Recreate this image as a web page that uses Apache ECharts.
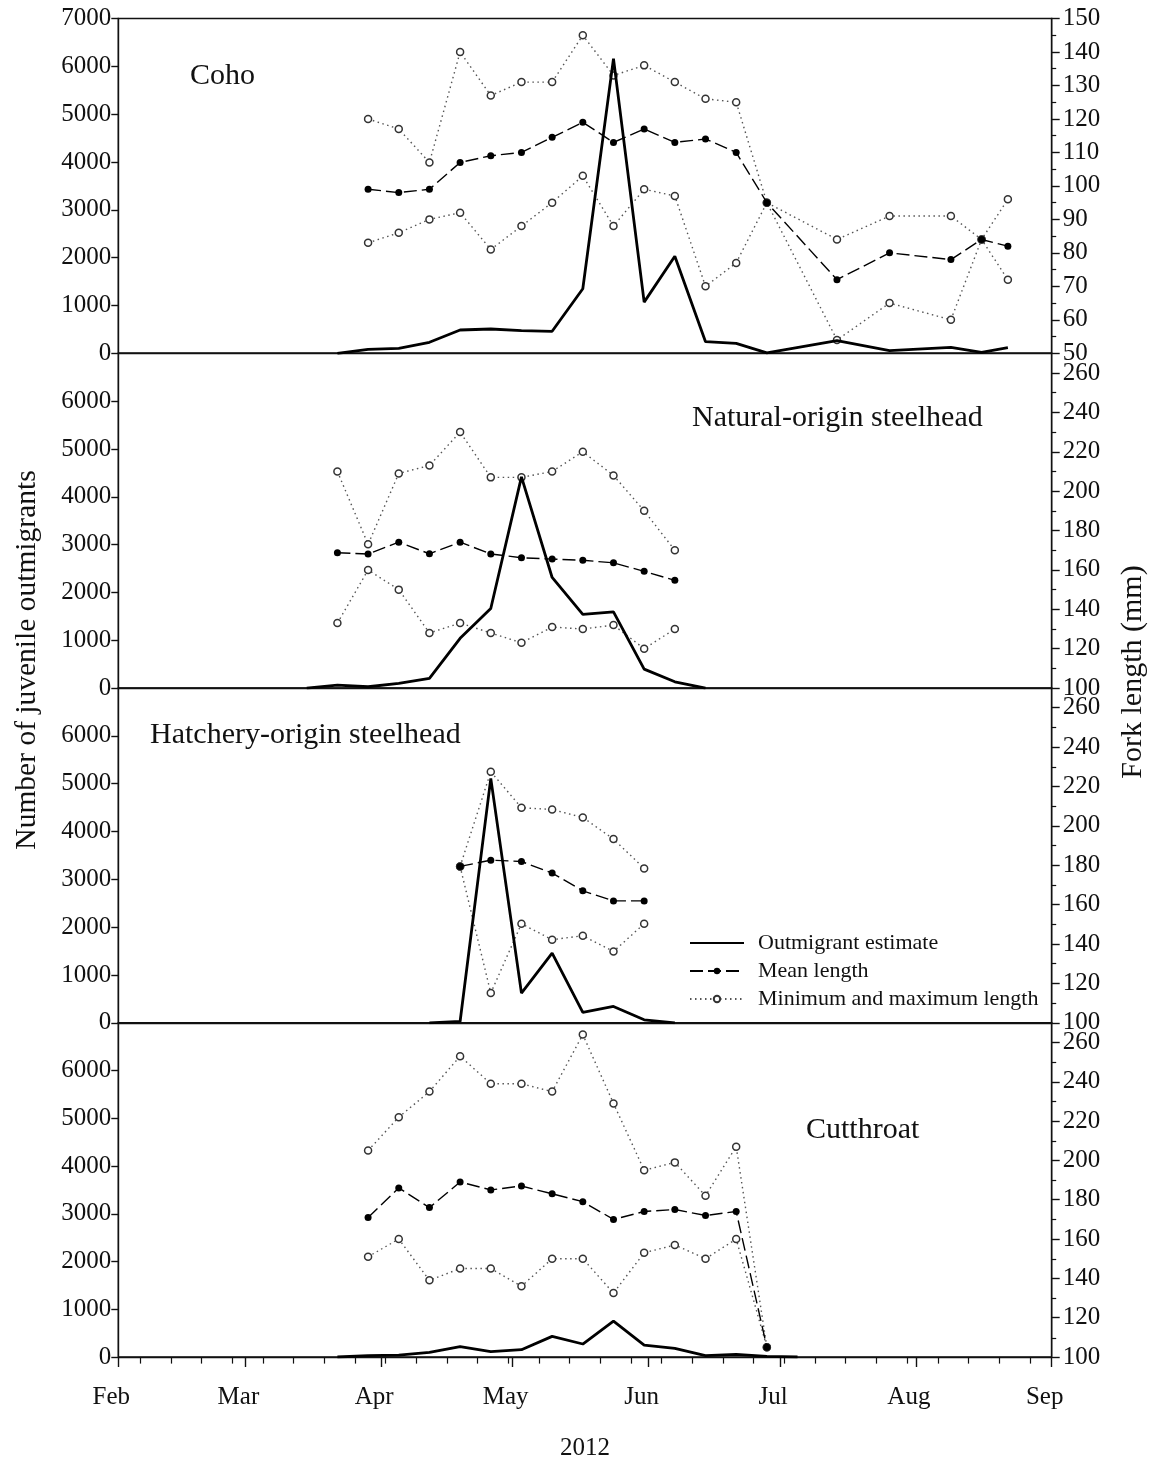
<!DOCTYPE html>
<html>
<head>
<meta charset="utf-8">
<script src="https://cdn.jsdelivr.net/npm/echarts@6/dist/echarts.min.js"></script>
<style>
  html, body { margin: 0; padding: 0; background: #fff; }
  #chart { width: 1156px; height: 1462px; }
</style>
</head>
<body>
<div id="chart"></div>
<script>
// ---- Time axis (2012), shown as days since 1 Feb ----
const monthLabels = ['Feb', 'Mar', 'Apr', 'May', 'Jun', 'Jul', 'Aug', 'Sep'];
const monthStarts = ['2012-02-01', '2012-03-01', '2012-04-01', '2012-05-01',
                     '2012-06-01', '2012-07-01', '2012-08-01', '2012-09-01'];

// ---- Coho ----
const cohoEstimateDates = ['2012-03-22', '2012-03-29', '2012-04-05', '2012-04-12', '2012-04-19',
  '2012-04-26', '2012-05-03', '2012-05-10', '2012-05-17', '2012-05-24', '2012-05-31', '2012-06-07',
  '2012-06-14', '2012-06-21', '2012-06-28', '2012-07-14', '2012-07-26', '2012-08-09', '2012-08-16',
  '2012-08-22'];
const cohoEstimate = [0, 84, 104, 230, 487, 508, 472, 460, 1350, 6160, 1070, 2030,
  243, 209, 10, 263, 54, 125, 20, 117];
const cohoLengthDates = ['2012-03-29', '2012-04-05', '2012-04-12', '2012-04-19', '2012-04-26',
  '2012-05-03', '2012-05-10', '2012-05-17', '2012-05-24', '2012-05-31', '2012-06-07', '2012-06-14',
  '2012-06-21', '2012-06-28', '2012-07-14', '2012-07-26', '2012-08-09', '2012-08-16', '2012-08-22'];
const cohoMean = [99, 98, 99, 107, 109, 110, 114.5, 119, 113, 117, 113, 114, 110, 95, 72, 80, 78, 84, 82];
const cohoMax  = [120, 117, 107, 140, 127, 131, 131, 145, 133, 136, 131, 126, 125, 95, 84, 91, 91, 84, 96];
const cohoMin  = [83, 86, 90, 92, 81, 88, 95, 103, 88, 99, 97, 70, 77, 95, 54, 65, 60, 84, 72];

// ---- Natural-origin steelhead ----
const natEstimateDates = ['2012-03-15', '2012-03-22', '2012-03-29', '2012-04-05', '2012-04-12',
  '2012-04-19', '2012-04-26', '2012-05-03', '2012-05-10', '2012-05-17', '2012-05-24', '2012-05-31',
  '2012-06-07', '2012-06-14'];
const natEstimate = [0, 63, 28, 98, 202, 1040, 1665, 4415, 2313, 1540, 1595, 397, 132, 0];
const natLengthDates = ['2012-03-22', '2012-03-29', '2012-04-05', '2012-04-12', '2012-04-19',
  '2012-04-26', '2012-05-03', '2012-05-10', '2012-05-17', '2012-05-24', '2012-05-31', '2012-06-07'];
const natMean = [168.7, 168.1, 174.1, 168.2, 174.1, 168.1, 166.2, 165.5, 164.9, 163.6, 159.3, 154.7];
const natMax  = [210, 173, 209, 213, 230, 207, 207, 210, 220, 208, 190, 170];
const natMin  = [133, 160, 150, 128, 133, 128, 123, 131, 130, 132, 120, 130];

// ---- Hatchery-origin steelhead ----
const hatEstimateDates = ['2012-04-12', '2012-04-19', '2012-04-26', '2012-05-03', '2012-05-10',
  '2012-05-17', '2012-05-24', '2012-05-31', '2012-06-07'];
const hatEstimate = [0, 28, 5110, 620, 1456, 216, 341, 63, 0];
const hatLengthDates = ['2012-04-19', '2012-04-26', '2012-05-03', '2012-05-10', '2012-05-17',
  '2012-05-24', '2012-05-31'];
const hatMean = [179.4, 182.6, 181.9, 176, 167, 161.9, 161.9];
const hatMax  = [179.4, 227.5, 209.2, 208.3, 204.3, 193.3, 178.4];
const hatMin  = [179.4, 115.1, 150.3, 142.2, 144.2, 136.2, 150.3];

// ---- Cutthroat ----
const cutEstimateDates = ['2012-03-22', '2012-03-29', '2012-04-05', '2012-04-12', '2012-04-19',
  '2012-04-26', '2012-05-03', '2012-05-10', '2012-05-17', '2012-05-24', '2012-05-31', '2012-06-07',
  '2012-06-14', '2012-06-21', '2012-06-28', '2012-07-05'];
const cutEstimate = [0, 27, 40, 97, 216, 112, 153, 432, 272, 750, 250, 181, 28, 56, 15, 0];
const cutLengthDates = ['2012-03-29', '2012-04-05', '2012-04-12', '2012-04-19', '2012-04-26',
  '2012-05-03', '2012-05-10', '2012-05-17', '2012-05-24', '2012-05-31', '2012-06-07', '2012-06-14',
  '2012-06-21', '2012-06-28'];
const cutMean = [171, 186, 176, 189, 185, 187, 183, 179, 170, 174, 175, 172, 174, 105];
const cutMax  = [205, 222, 235, 253, 239, 239, 235, 264, 229, 195, 199, 182, 207, 105];
const cutMin  = [151, 160, 139, 145, 145, 136, 150, 150, 132.5, 153, 157, 150, 160, 105];

// ---- Panel titles and axis titles ----
const panelNames = ['Coho', 'Natural-origin steelhead', 'Hatchery-origin steelhead', 'Cutthroat'];
const leftTitle = 'Number of juvenile outmigrants';
const rightTitle = 'Fork length (mm)';
const yearTitle = '2012';
const legendNames = ['Outmigrant estimate', 'Mean length', 'Minimum and maximum length'];

// ---------------------------------------------------------------
const FONT = '"Liberation Serif", "Times New Roman", Times, serif';
const INK = '#111';
const DAY0 = Date.UTC(2012, 1, 1);
const dayOf = s => (Date.UTC(+s.slice(0, 4), +s.slice(5, 7) - 1, +s.slice(8, 10)) - DAY0) / 86400000;
const XMAX = dayOf('2012-09-01');
const monthDays = monthStarts.map(dayOf);
const pairs = (dates, vals) => dates.map((d, i) => [dayOf(d), vals[i]]);

// Monday week marks along the date axis
const weekMarks = [];
for (let d = dayOf('2012-02-06'); d < XMAX; d += 7) weekMarks.push(d);

const panels = [
  { est: [cohoEstimateDates, cohoEstimate], len: cohoLengthDates, mean: cohoMean, max: cohoMax, min: cohoMin,
    lmin: 50, lmax: 150, lstep: 10, ltop: 150 },
  { est: [natEstimateDates, natEstimate], len: natLengthDates, mean: natMean, max: natMax, min: natMin,
    lmin: 100, lmax: 270, lstep: 20, ltop: 260 },
  { est: [hatEstimateDates, hatEstimate], len: hatLengthDates, mean: hatMean, max: hatMax, min: hatMin,
    lmin: 100, lmax: 270, lstep: 20, ltop: 260 },
  { est: [cutEstimateDates, cutEstimate], len: cutLengthDates, mean: cutMean, max: cutMax, min: cutMin,
    lmin: 100, lmax: 270, lstep: 20, ltop: 260 }
];

const gridTops = [18.5, 353.3, 688, 1022.8];
const GRID_H = 334.8;
const GRID_L = 118.3;
const GRID_R = 1156 - 1051.7;
const N = panels.length;

const axisLine = { show: true, onZero: false, lineStyle: { color: INK, width: 1.4 } };
const noLine = { show: false, onZero: false };
const tickLabel = { fontFamily: FONT, fontSize: 25, color: INK };

// main grids 0..3, then matching overlay grids 4..7 that only carry minor tick marks
const grid = [];
for (let pass = 0; pass < 2; pass++) {
  gridTops.forEach(t => grid.push({
    left: GRID_L, right: GRID_R, top: t, height: GRID_H,
    show: pass === 0, borderColor: INK, borderWidth: 1.4, backgroundColor: 'transparent'
  }));
}

const xAxis = [];
panels.forEach((p, i) => {
  const last = i === N - 1;
  xAxis.push({
    gridIndex: i, type: 'value', position: 'bottom', min: 0, max: XMAX,
    axisLine: axisLine,
    splitLine: { show: false },
    axisTick: last
      ? { show: true, length: 10, lineStyle: { color: INK, width: 1.4 }, customValues: monthDays }
      : { show: false },
    axisLabel: last
      ? Object.assign({ show: true, margin: 28, padding: [0, 14, 0, 0],
          customValues: monthDays,
          formatter: v => monthLabels[monthDays.indexOf(v)] || '' }, tickLabel)
      : { show: false },
    name: last ? yearTitle : '',
    nameLocation: 'middle', nameGap: 79,
    nameTextStyle: { fontFamily: FONT, fontSize: 25, color: INK }
  });
});
panels.forEach((p, i) => {
  const last = i === N - 1;
  xAxis.push({
    gridIndex: N + i, type: 'value', position: 'bottom', min: 0, max: XMAX,
    show: last,
    axisLine: noLine, splitLine: { show: false },
    axisTick: { show: last, length: 6, lineStyle: { color: INK, width: 1.2 }, customValues: weekMarks },
    axisLabel: { show: false }
  });
});

const yAxis = [];
panels.forEach((p, i) => {
  const first = i === 0;
  // count axis (left)
  yAxis.push({
    gridIndex: i, type: 'value', position: 'left', min: 0, max: 7000, interval: 1000,
    axisLine: axisLine, splitLine: { show: false },
    axisTick: { show: true, length: 7, lineStyle: { color: INK, width: 1.4 } },
    axisLabel: Object.assign({ margin: 7, showMaxLabel: first, formatter: v => String(v) }, tickLabel)
  });
  // fork length axis (right)
  const majors = [];
  for (let v = p.lmin; v <= p.ltop; v += p.lstep) majors.push(v);
  yAxis.push({
    gridIndex: i, type: 'value', position: 'right', min: p.lmin, max: p.lmax, interval: p.lstep,
    axisLine: axisLine, splitLine: { show: false },
    axisTick: { show: true, length: 8, lineStyle: { color: INK, width: 1.4 }, customValues: majors },
    axisLabel: Object.assign({ margin: 11, customValues: majors, formatter: v => String(v) }, tickLabel)
  });
});
panels.forEach((p, i) => {
  // minor fork length marks, half way between labelled ticks
  const minors = [];
  for (let v = p.lmin + p.lstep / 2; v < p.lmax; v += p.lstep) minors.push(v);
  yAxis.push({
    gridIndex: N + i, type: 'value', position: 'right', min: p.lmin, max: p.lmax, interval: p.lstep,
    axisLine: noLine, splitLine: { show: false },
    axisTick: { show: true, length: 4.5, lineStyle: { color: INK, width: 1.2 }, customValues: minors },
    axisLabel: { show: false }
  });
});

const series = [];
panels.forEach((p, i) => {
  const rangeStyle = {
    type: 'line', xAxisIndex: i, yAxisIndex: 2 * i + 1, name: legendNames[2],
    symbol: 'circle', symbolSize: 7, z: 2,
    lineStyle: { color: '#555', width: 1.4, type: [1.5, 3.5] },
    itemStyle: { color: '#fff', borderColor: '#333', borderWidth: 1.5 }
  };
  series.push(Object.assign({}, rangeStyle, { data: pairs(p.len, p.max) }));
  series.push(Object.assign({}, rangeStyle, { data: pairs(p.len, p.min) }));
  series.push({
    type: 'line', xAxisIndex: i, yAxisIndex: 2 * i + 1, name: legendNames[1],
    symbol: 'circle', symbolSize: 7, z: 3,
    lineStyle: { color: '#000', width: 1.4, type: [13, 5] },
    itemStyle: { color: '#000' },
    data: pairs(p.len, p.mean)
  });
  series.push({
    type: 'line', xAxisIndex: i, yAxisIndex: 2 * i, name: legendNames[0],
    symbol: 'none', z: 4,
    lineStyle: { color: '#000', width: 2.8 },
    itemStyle: { color: 'transparent' },
    data: pairs(p.est[0], p.est[1])
  });
});

const titleStyle = { fontFamily: FONT, fontSize: 30, fontWeight: 'normal', color: INK };
const title = [
  { text: panelNames[0], left: 190, top: 61 },
  { text: panelNames[1], left: 692, top: 403 },
  { text: panelNames[2], left: 150, top: 720 },
  { text: panelNames[3], left: 806, top: 1115 }
].map(t => Object.assign(t, { padding: 0, textStyle: titleStyle }));

const option = {
  animation: false,
  backgroundColor: '#fff',
  grid, xAxis, yAxis, series, title,
  legend: {
    orient: 'vertical', left: 689, top: 932, padding: 0,
    data: legendNames,
    itemWidth: 54, itemHeight: 8, itemGap: 6,
    selectedMode: false,
    textStyle: { fontFamily: FONT, fontSize: 22, color: INK, lineHeight: 22, padding: [0, 0, 0, 9] }
  },
  graphic: [
    { type: 'text', x: 27, y: 660, rotation: Math.PI / 2,
      style: { text: leftTitle, font: '29.5px ' + FONT, fill: INK, textAlign: 'center', textVerticalAlign: 'middle' } },
    { type: 'text', x: 1133, y: 672, rotation: Math.PI / 2,
      style: { text: rightTitle, font: '30px ' + FONT, fill: INK, textAlign: 'center', textVerticalAlign: 'middle' } }
  ]
};

const chart = echarts.init(document.getElementById('chart'), null, { renderer: 'canvas' });
chart.setOption(option);
</script>
</body>
</html>
